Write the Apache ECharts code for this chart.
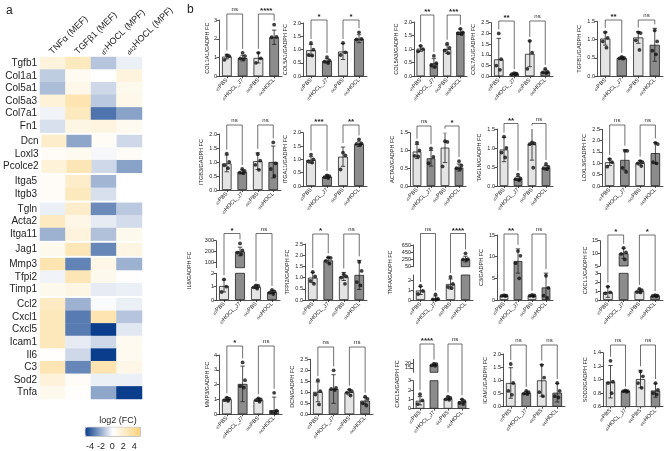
<!DOCTYPE html>
<html><head><meta charset="utf-8">
<script src="https://cdn.jsdelivr.net/npm/echarts@6/dist/echarts.min.js"></script>
<style>html,body{margin:0;padding:0;background:#fff}#main{width:669px;height:451px}</style>
</head><body><div id="main"></div>
<script>
// ---------------- Heatmap data (panel a) ----------------
const HEAT_ROWS = ['Tgfb1','Col1a1','Col5a1','Col5a3','Col7a1','Fn1','Dcn','Loxl3','Pcolce2','Itga5','Itgb3','Tgln','Acta2','Itga11','Jag1','Mmp3','Tfpi2','Timp1','Ccl2','Cxcl1','Cxcl5','Icam1','Il6','C3','Sod2','Tnfa'];
const HEAT_GROUP_SIZES = [6,3,2,3,1,3,8];
const HEAT_COLS = ['TNFα (MEF)','TGFβ1 (MEF)','d7HOCL (MPF)','d42HOCL (MPF)'];
const heatTNFa  = [1.3,-1.3,-1.7,1.5,-0.3,-0.8, 2.0,0.3,1.5, 0.3,0.3, -0.4,2.3,-2.0, 0.7, 3.0,-0.3,0.7, 2.3,2.6,2.6,2.6,0.1,2.9,1.4,0.7];
const heatTGFb1 = [2.5,0.5,0.8,3.0,2.5,1.0, -2.3,0.6,2.8, 2.0,2.5, 2.0,0.9,1.3, 2.7, -3.2,2.8,1.0, -2.0,-3.4,-3.4,-0.5,-1.0,-3.1,0.3,0.1];
const heatD7    = [-1.5,0,-1.0,-1.4,-3.6,1.2, 0.4,-0.2,-1.0, -1.9,-0.8, -3.0,-0.5,-1.6, -3.1, 0.9,0.7,-0.5, -0.1,3.0,-5,-1.0,-5,3.0,-0.4,-2.3];
const heatD42   = [-0.4,1.3,0.7,0.8,-2.4,0.6, -1.0,0.3,-2.4, 0,0, -1.4,-0.9,0.7, 1.1, -2.0,0.1,-0.4, -0.4,-1.5,-0.6,0.6,0.6,0.9,-0.4,-5];
const COLORBAR_TICKS = [-4,-2,0,2,4];

// ---------------- Bar chart data (panel b) ----------------
const GROUPS = ['d7PBS','d7HOCL_J7','d42PBS','d42HOCL'];
const GENES = ['COL1A1','COL5A1','COL5A3','COL7A1','TGFB1','ITGB3','ITGA11','ACTA2','TAGLN','LOXL3','IL6','TFPI2','TNFA','C3','CXCL1','MMP3','DCN','CXCL5','ICAM1','SOD2'];

const COL1A1_mean=[1.05,0.97,0.98,2.08], COL1A1_sd=[0.12,0.15,0.27,0.38], COL1A1_pts=[[1.12,1.07,0.88],[1.25,1.08,0.95,0.92],[1.25,0.95,0.72],[2.75,2.1,2.08]], COL1A1_sig=['ns','****'];
const COL5A1_mean=[0.98,0.58,0.93,1.41], COL5A1_sd=[0.22,0.08,0.3,0.15], COL5A1_pts=[[1.25,1.0,0.8,0.78],[0.72,0.6,0.55,0.5],[1.25,0.9,0.8],[1.65,1.4,1.38]], COL5A1_sig=['*','*'];
const COL5A3_mean=[1.02,0.48,1.0,1.64], COL5A3_sd=[0.1,0.17,0.15,0.1], COL5A3_pts=[[1.12,1.0,0.92],[0.75,0.48,0.4,0.35],[1.2,1.05,0.95,0.85],[1.75,1.62,1.58,1.55]], COL5A3_sig=['**','***'];
const COL7A1_mean=[0.79,0.12,1.05,0.22], COL7A1_sd=[0.98,0.03,0.6,0.08], COL7A1_pts=[[2.0,0.8,0.5,0.3],[0.15,0.12,0.1,0.1],[1.65,1.1,0.35],[0.35,0.2,0.18,0.15]], COL7A1_sig=['**','ns'];
const TGFB1_mean=[1.03,0.5,1.06,0.86], TGFB1_sd=[0.18,0.03,0.16,0.45], TGFB1_pts=[[1.2,1.05,0.95,0.78],[0.53,0.5,0.49,0.48],[1.2,1.18,0.98,0.72],[1.25,0.95,0.7,0.6]], TGFB1_sig=['**','ns'];
const ITGB3_mean=[0.95,0.65,1.03,1.0], ITGB3_sd=[0.3,0.07,0.3,0.57], ITGB3_pts=[[1.3,1.0,0.88,0.78],[0.75,0.68,0.62,0.6],[1.28,1.05,0.9,0.72],[1.7,0.95,0.75,0.5]], ITGB3_sig=['ns','ns'];
const ITGA11_mean=[0.98,0.35,1.1,1.58], ITGA11_sd=[0.12,0.06,0.36,0.1], ITGA11_pts=[[1.18,1.0,0.92,0.88],[0.4,0.37,0.33,0.3],[1.25,1.15,0.62],[1.75,1.6,1.58,1.55]], ITGA11_sig=['***','**'];
const ACTA2_mean=[0.97,0.78,1.08,0.52], ACTA2_sd=[0.2,0.22,0.42,0.1], ACTA2_pts=[[1.22,1.0,0.85,0.83],[1.06,0.82,0.64],[1.26,1.24,0.55],[0.7,0.58,0.5,0.48]], ACTA2_sig=['ns','*'];
const TAGLN_mean=[0.96,0.2,1.1,0.48], TAGLN_sd=[0.32,0.05,0.42,0.06], TAGLN_pts=[[1.3,1.0,0.88,0.75],[0.3,0.2,0.18,0.15],[1.15,1.12,1.1,0.48],[0.58,0.5,0.47,0.45]], TAGLN_sig=['**','ns'];
const LOXL3_mean=[1.05,1.15,1.02,1.45], LOXL3_sd=[0.15,0.45,0.1,0.47], LOXL3_pts=[[1.18,1.05,0.85],[1.55,1.55,0.8,0.62],[1.1,1.05,1.0,0.88],[1.9,1.85,1.05,1.0]], LOXL3_sig=['ns','ns'];
const IL6_mean=[1.05,200,0.98,0.6], IL6_sd=[0.45,40,0.12,0.12], IL6_pts=[[1.55,1.0,0.6],[275,210,190,175],[1.1,1.05,0.95,0.85],[0.75,0.65,0.55,0.45]], IL6_sig=['*','ns'];
const TFPI2_mean=[1.0,1.77,1.05,1.12], TFPI2_sd=[0.23,0.12,0.18,0.65], TFPI2_pts=[[1.25,1.05,0.85,0.72],[1.9,1.88,1.75,1.62],[1.15,1.05,1.0,0.72],[1.7,1.3,0.8,0.65]], TFPI2_sig=['*','ns'];
const TNFA_mean=[0.95,0.15,1.6,260], TNFA_sd=[0.4,0.25,0.5,80], TNFA_pts=[[1.4,0.9,0.6],[0.55,0.1,0.05,0.05],[2.3,1.6,1.3,1.2],[420,260,250,240]], TNFA_sig=['ns','****'];
const C3_mean=[1.0,9.0,1.0,2.9], C3_sd=[0.1,2.8,0.12,3.3], C3_pts=[[1.1,1.0,0.95,0.9],[11.3,10.2,8.5,5.0],[1.2,1.05,0.95,0.85],[5.6,2.8,1.0,0.5]], C3_sig=['**','ns'];
const CXCL1_mean=[0.9,10,1.0,0.48], CXCL1_sd=[0.6,2.0,0.2,0.07], CXCL1_pts=[[1.5,0.85,0.75],[12.2,10.4,9.8,7.6],[1.25,1.1,0.9,0.85],[0.55,0.5,0.45,0.4]], CXCL1_sig=['*','*'];
const MMP3_mean=[1.02,2.05,0.97,0.28], MMP3_sd=[0.12,1.2,0.1,0.88], MMP3_pts=[[1.12,1.05,0.95,0.9],[3.5,2.3,1.9,1.8],[1.08,1.0,0.95,0.85],[1.45,0.25,0.15,0.1]], MMP3_sig=['*','ns'];
const DCN_mean=[1.02,1.15,1.0,0.62], DCN_sd=[0.45,0.65,0.12,0.15], DCN_pts=[[1.55,1.05,0.9,0.45],[2.0,1.2,1.15,1.1],[1.12,1.05,0.98,0.85],[0.8,0.7,0.5,0.4]], DCN_sig=['ns','ns'];
const CXCL5_mean=[0.85,18.5,1.1,0.8], CXCL5_sd=[0.45,1.2,0.15,0.2], CXCL5_pts=[[1.55,0.9,0.5],[20,19.5,18,17.5],[1.3,1.15,1.0,0.95],[1.0,0.8,0.6,0.5]], CXCL5_sig=['****','ns'];
const ICAM1_mean=[0.9,0.52,1.0,0.53], ICAM1_sd=[0.58,0.05,0.6,0.35], ICAM1_pts=[[1.62,0.9,0.6,0.45],[0.6,0.55,0.5,0.48],[1.58,1.1,0.55,0.4],[0.9,0.6,0.4,0.35]], ICAM1_sig=['ns','ns'];
const SOD2_mean=[0.97,0.83,1.01,0.84], SOD2_sd=[0.24,0.01,0.13,0.1], SOD2_pts=[[1.28,0.97,0.95,0.8],[0.84,0.83,0.83,0.82],[1.12,1.05,0.95,0.88],[0.95,0.85,0.8,0.78]], SOD2_sig=['ns','ns'];

// axis tick labels
const TICKS = {
  COL1A1:[0,1,2,3], COL5A1:[0,0.5,1,1.5,2], COL5A3:[0,0.5,1,1.5,2], COL7A1:[0,0.5,1,1.5,2,2.5], TGFB1:[0,0.5,1,1.5],
  ITGB3:[0,0.5,1,1.5,2], ITGA11:[0,0.5,1,1.5,2], ACTA2:[0,0.5,1,1.5], TAGLN:[0,0.5,1,1.5], LOXL3:[0,0.5,1,1.5,2,2.5],
  IL6:[0,1,2], TFPI2:[0,0.5,1,1.5,2,2.5], TNFA:[0,1,2], C3:[0,5,10,15], CXCL1:[0,1,2,3],
  MMP3:[0,1,2,3,4], DCN:[0,0.5,1,1.5,2,2.5], CXCL5:[0,1,2,3], ICAM1:[0,0.5,1,1.5,2], SOD2:[0.6,0.8,1,1.2,1.4]
};
const UPPER_TICKS = { IL6:[100,200,300], TNFA:[50,250,450,650], CXCL1:[5,10,15], CXCL5:[10,15,20,25] };

// ---------------- Layout (pixels / axis ranges) ----------------
const LAYOUT = {
  COL1A1:{L:219,R:282,bottom:76.3,top:20,min:0,max:3,dec:0,ng:9,by:14},
  COL5A1:{L:303,R:367,bottom:76.3,top:23,min:0,max:2,dec:1,ng:15,by:20},
  COL5A3:{L:414,R:467,bottom:76.3,top:22,min:0,max:2,dec:1,ng:15,by:15},
  COL7A1:{L:491,R:553,bottom:76.3,top:22.7,min:0,max:2.5,dec:1,ng:15,by:21},
  TGFB1:{L:597,R:663,bottom:76.3,top:21.3,min:0,max:1.5,dec:1,ng:15,by:20},
  ITGB3:{L:219,R:281,bottom:190,top:134,min:0,max:2,dec:1,ng:15,by:125},
  ITGA11:{L:303,R:367,bottom:186,top:132.7,min:0,max:2,dec:1,ng:15,by:125},
  ACTA2:{L:410,R:466,bottom:186,top:132.7,min:0,max:1.5,dec:1,ng:15,by:126},
  TAGLN:{L:497,R:553,bottom:186,top:129,min:0,max:1.5,dec:1,ng:15,by:123.5},
  LOXL3:{L:602,R:663,bottom:186,top:129.3,min:0,max:2.5,dec:1,ng:15,by:125},
  IL6:{L:216,R:280,bottom:300,top:273.3,min:0,max:2,dec:0,ng:24,by:233.5,upper:{top:240.7,bottom:267.7,min:50,max:300}},
  TFPI2:{L:305,R:367,bottom:300,top:244,min:0,max:2.5,dec:1,ng:15,by:234},
  TNFA:{L:413,R:473,bottom:300,top:275,min:0,max:2.5,dec:0,ng:20,by:233.5,upper:{top:245,bottom:266.7,min:50,max:650}},
  C3:{L:497,R:553,bottom:300,top:235,min:0,max:15,dec:0,ng:12,by:234},
  CXCL1:{L:600,R:663,bottom:300,top:273.3,min:0,max:3,dec:0,ng:12,by:235,upper:{top:240.7,bottom:266,min:5,max:15}},
  MMP3:{L:219,R:282,bottom:414.3,top:355,min:0,max:4,dec:0,ng:9,by:346},
  DCN:{L:310,R:373,bottom:414.3,top:359.3,min:0,max:2.5,dec:1,ng:15,by:347},
  CXCL5:{L:413,R:469,bottom:408.7,top:380.7,min:0,max:3,dec:0,ng:13,by:344,upper:{top:359.3,bottom:372.3,min:10,max:25}},
  ICAM1:{L:503,R:565,bottom:406.7,top:354,min:0,max:2,dec:1,ng:15,by:345},
  SOD2:{L:603,R:663,bottom:406.7,top:352.7,min:0.6,max:1.4,dec:1,ng:15,by:345}
};

const FONT = 'Liberation Sans, Arial, sans-serif';
const INK = '#222';
const LIGHT = '#e4e4e4', DARK = '#8c8c8c';

const DATA = {};
GENES.forEach(g => { DATA[g] = { mean: eval(g+'_mean'), sd: eval(g+'_sd'), pts: eval(g+'_pts'), sig: eval(g+'_sig') }; });

const grids = [], xAxes = [], yAxes = [], series = [];
function addCart(rect, xa, ya) {
  const gi = grids.length;
  grids.push(Object.assign({containLabel:false}, rect));
  xAxes.push(Object.assign({gridIndex:gi}, xa));
  yAxes.push(Object.assign({gridIndex:gi}, ya));
  return gi;
}

// ---- heatmap ----
const RH = 12.6, GAP = 2.4, HEAT_TOP = 57;
const heatCols = [heatTNFa, heatTGFb1, heatD7, heatD42];
const colRich = {s:{fontSize:6, fontFamily:FONT, fill:INK, color:INK, verticalAlign:'bottom'}, n:{fontSize:9, fontFamily:FONT, fill:INK, color:INK}};
function colFmt(v){ const m = v.match(/^(d\d+)(.*)$/); return m ? '{s|'+m[1]+'}{n|'+m[2]+'}' : '{n|'+v+'}'; }
const heatSeries = [];
let hy = HEAT_TOP, start = 0;
HEAT_GROUP_SIZES.forEach((n, gIdx) => {
  const rows = HEAT_ROWS.slice(start, start+n);
  const gi = addCart({left:40, top:hy, width:102, height:n*RH},
    {type:'category', data:HEAT_COLS, position:'top', axisLine:{show:false}, axisTick:{show:false}, axisLabel:{show:false}},
    {type:'category', data:rows, inverse:true, axisLine:{show:false}, axisTick:{show:false},
     axisLabel:{fontSize:10, color:INK, fontFamily:FONT, margin:3, interval:0}});
  const d = [];
  rows.forEach((r, li) => { for (let c=0;c<4;c++) d.push([c, li, heatCols[c][start+li]]); });
  heatSeries.push(series.length);
  series.push({type:'heatmap', xAxisIndex:gi, yAxisIndex:gi, data:d, itemStyle:{borderWidth:0}, emphasis:{disabled:true}, silent:true});
  hy += n*RH + GAP; start += n;
});
// colorbar tick axis
addCart({left:90, top:436, width:44.3, height:1},
  {type:'value', min:COLORBAR_TICKS[0], max:COLORBAR_TICKS[COLORBAR_TICKS.length-1], interval:2, axisLine:{show:false}, axisTick:{show:false}, splitLine:{show:false},
   axisLabel:{fontSize:9, color:INK, fontFamily:FONT, margin:5}},
  {type:'value', show:false});

// ---- bar charts ----
const xRich = {s:{fontSize:3.8, fontFamily:FONT, color:INK, verticalAlign:'bottom'}, n:{fontSize:5.5, fontFamily:FONT, color:INK}};
function xFmt(v){ const m = v.match(/^(d\d+)(.*)$/); return '{s|'+m[1]+'}{n|'+m[2]+'}'; }
function jit(k){ return [0, 2.4, -2.4, 1.2, -1.2][k % 5]; }
function errRender(params, api){
  const i = api.value(0), m = api.value(1), s = api.value(2);
  const p1 = api.coord([i, m+s]), p2 = api.coord([i, m-s]);
  const x = p1[0], c = 2.2, st = {stroke:INK, lineWidth:0.8};
  return {type:'group', children:[
    {type:'line', shape:{x1:x,y1:p1[1],x2:x,y2:p2[1]}, style:st},
    {type:'line', shape:{x1:x-c,y1:p1[1],x2:x+c,y2:p1[1]}, style:st},
    {type:'line', shape:{x1:x-c,y1:p2[1],x2:x+c,y2:p2[1]}, style:st}
  ]};
}
function yAxisBase(min, max, ticks, dec){
  return {type:'value', min:min, max:max, splitLine:{show:false},
    axisLine:{show:true, lineStyle:{color:INK, width:0.8}},
    axisTick:{show:true, length:2.5, customValues:ticks, lineStyle:{color:INK, width:0.8}},
    axisLabel:{fontSize:5.5, color:INK, fontFamily:FONT, margin:2, customValues:ticks, formatter:v=>Number(v).toFixed(dec)}};
}
function addSeries(gi, d, filt){
  series.push({type:'bar', xAxisIndex:gi, yAxisIndex:gi, barWidth:'62%', clip:true, silent:true, z:2,
    data:d.mean.map((v,i)=>({value: filt.bar(v) ? v : '-', itemStyle:{color: i%2===0 ? LIGHT : DARK, borderColor:INK, borderWidth:0.8}}))});
  const ed = []; d.mean.forEach((v,i)=>{ if (filt.err(v)) ed.push([i, v, d.sd[i]]); });
  series.push({type:'custom', xAxisIndex:gi, yAxisIndex:gi, clip:true, silent:true, z:3, renderItem:errRender, data:ed});
  const sd = []; d.pts.forEach((arr,i)=>arr.forEach((v,k)=>{ if (filt.pt(v)) sd.push({value:[i, v], symbolOffset:[jit(k),0]}); }));
  series.push({type:'scatter', xAxisIndex:gi, yAxisIndex:gi, clip:true, silent:true, z:4, symbol:'circle', symbolSize:3.8, itemStyle:{color:'#111'}, data:sd});
}
const CHART_GRID = {};
GENES.forEach(g => {
  const L = LAYOUT[g], d = DATA[g], up = L.upper;
  const name = g + '/GADPH FC';
  const xa = {type:'category', data:GROUPS, axisLine:{show:true, lineStyle:{color:INK, width:0.8}},
    axisTick:{show:true, alignWithLabel:true, length:2, lineStyle:{color:INK, width:0.8}},
    axisLabel:{rotate:45, margin:3, interval:0, formatter:xFmt, rich:xRich}};
  const ya = yAxisBase(L.min, L.max, TICKS[g], L.dec);
  if (!up) { ya.name = name; ya.nameLocation = 'middle'; ya.nameGap = L.ng; ya.nameTextStyle = {fontSize:5.5, color:INK, fontFamily:FONT}; }
  const lo = addCart({left:L.L, top:L.top, width:L.R-L.L, height:L.bottom-L.top}, xa, ya);
  addSeries(lo, d, {bar:v=>true, err:v=>v<=L.max, pt:v=>v<=L.max});
  CHART_GRID[g] = {lo: lo};
  if (up) {
    const ua = yAxisBase(up.min, up.max, UPPER_TICKS[g], 0);
    const ui = addCart({left:L.L, top:up.top, width:L.R-L.L, height:up.bottom-up.top},
      {type:'category', data:GROUPS, show:false}, ua);
    addSeries(ui, d, {bar:v=>v>up.min, err:v=>v>L.max, pt:v=>v>=up.min});
    CHART_GRID[g].up = ui;
    addCart({left:L.L, top:up.top, width:L.R-L.L, height:L.bottom-up.top},
      {type:'category', data:GROUPS, show:false},
      {type:'value', min:0, max:1, name:name, nameLocation:'middle', nameGap:L.ng,
       nameTextStyle:{fontSize:5.5, color:INK, fontFamily:FONT},
       axisLine:{show:false}, axisTick:{show:false}, axisLabel:{show:false}, splitLine:{show:false}});
  }
});

const option = {
  animation:false,
  textStyle:{fontFamily:FONT},
  title:[
    {text:'a', left:1, top:0, textStyle:{fontSize:12, fontWeight:'normal', color:INK, fontFamily:FONT}},
    {text:'b', left:182, top:-1, textStyle:{fontSize:12, fontWeight:'normal', color:INK, fontFamily:FONT}},
    {text:'log2 (FC)', left:113, textAlign:'center', top:411, textStyle:{fontSize:9, fontWeight:'normal', color:INK, fontFamily:FONT}}
  ],
  visualMap:{type:'continuous', min:-5, max:5, seriesIndex:heatSeries, dimension:2, orient:'horizontal',
    left:85, top:427, itemWidth:9, itemHeight:55, calculable:false, hoverLink:false, padding:0,
    borderWidth:0.6, borderColor:'#888', text:null, showLabel:false,
    inRange:{color:['#0a3d8c','#ffffff','#fbd27c']}},
  grid:grids, xAxis:xAxes, yAxis:yAxes, series:series
};
const chart = echarts.init(document.getElementById('main'), null, {renderer:'canvas', width:669, height:451});
chart.setOption(option);

const elems = [];
// heatmap column headers (rotated 45°, starting at each column centre)
HEAT_COLS.forEach((c, ci) => {
  const p = chart.convertToPixel({gridIndex:0}, [ci, 0]);
  elems.push({type:'text', silent:true, x:p[0]-2, y:HEAT_TOP-4, rotation:Math.PI/4,
    style:{text:colFmt(c), rich:colRich, fill:INK, fontFamily:FONT, align:'left', verticalAlign:'middle', textAlign:'left', textVerticalAlign:'middle'}});
});
// significance brackets
GENES.forEach(g => {
  const L = LAYOUT[g], d = DATA[g], cg = CHART_GRID[g];
  function pix(i, v){ const gi = (L.upper && v > L.max) ? cg.up : cg.lo; return chart.convertToPixel({gridIndex:gi}, [i, v]); }
  [[0,1],[2,3]].forEach((pair, pi) => {
    const topY = L.by;
    const pts = pair.map(j => {
      const hv = Math.max(d.mean[j] + d.sd[j], Math.max.apply(null, d.pts[j]));
      const p = pix(j, hv);
      return [p[0], Math.max(topY + 2, p[1] - 4)];
    });
    elems.push({type:'polyline', silent:true, shape:{points:[[pts[0][0],pts[0][1]],[pts[0][0],topY],[pts[1][0],topY],[pts[1][0],pts[1][1]]]},
      style:{stroke:'#333', lineWidth:0.7, fill:null}});
    const s = d.sig[pi];
    elems.push({type:'text', silent:true, x:(pts[0][0]+pts[1][0])/2, y: s==='ns' ? topY-1.5 : topY+1,
      style:{text:s, fontSize: s==='ns' ? 6 : 8, fontWeight: s==='ns' ? 'normal' : 'bold', fill:INK, fontFamily:FONT,
             align:'center', verticalAlign:'bottom', textAlign:'center', textVerticalAlign:'bottom'}});
  });
});
chart.setOption({graphic:{elements:elems}});
</script></body></html>
